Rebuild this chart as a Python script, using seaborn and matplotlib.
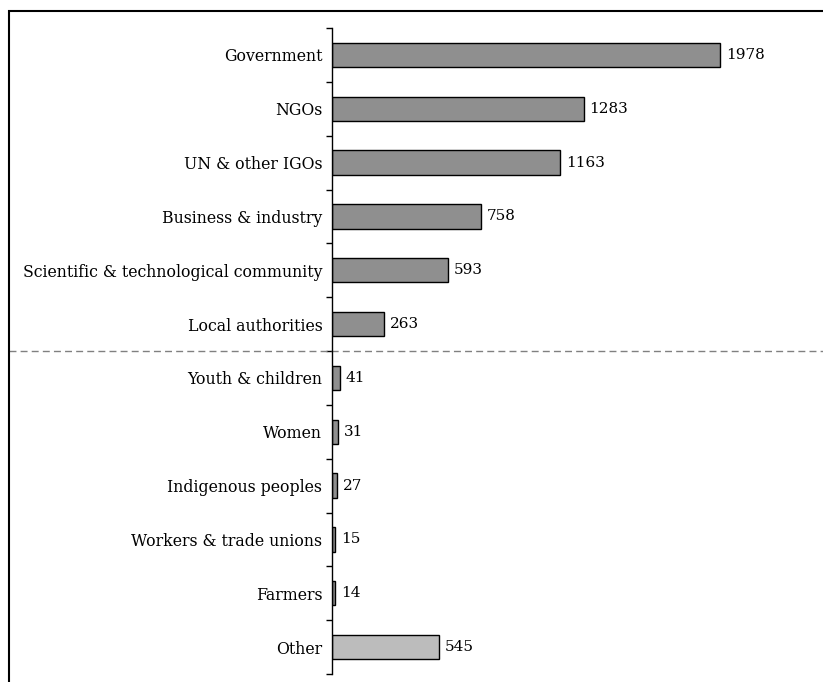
import pandas as pd
import seaborn as sns
import matplotlib.pyplot as plt
from matplotlib.patches import Rectangle

groups = ['Government', 'NGOs', 'UN & other IGOs', 'Business & industry',
          'Scientific & technological community', 'Local authorities',
          'Youth & children', 'Women', 'Indigenous peoples',
          'Workers & trade unions', 'Farmers', 'Other']
counts = [1978, 1283, 1163, 758, 593, 263, 41, 31, 27, 15, 14, 545]
bar_colors = ['#8f8f8f'] * 11 + ['#bcbcbc']

df = pd.DataFrame({'group': groups, 'count': counts})

sns.set_style('white')
plt.rcParams['font.family'] = ['DejaVu Serif']
plt.rcParams['text.color'] = 'black'
plt.rcParams['ytick.color'] = 'black'

fig = plt.figure(figsize=(8.23, 6.82), dpi=100)
ax = fig.add_axes([332 / 823, 8 / 682, 491 / 823, 646 / 682])

sns.barplot(data=df, y='group', x='count', hue='group', palette=bar_colors,
            order=groups, hue_order=groups, orient='h', width=0.45,
            edgecolor='black', linewidth=1, legend=False, ax=ax)

ax.set_xlim(0, 2503)
ax.set_ylim(len(groups) - 0.5, -0.5)
ax.set_xlabel('')
ax.set_ylabel('')
ax.set_xticks([])
for s in ['top', 'right', 'bottom']:
    ax.spines[s].set_visible(False)
ax.spines['left'].set_linewidth(1)
ax.spines['left'].set_color('black')

# labels without tick marks, ticks between categories
ax.tick_params(axis='y', which='major', length=0, pad=7, labelsize=11.3,
               labelcolor='black')
ax.set_yticks([i - 0.5 for i in range(len(groups) + 1)], minor=True)
ax.tick_params(axis='y', which='minor', length=4, width=1, color='black', left=True)

for i, v in enumerate(counts):
    ax.text(v + 30, i, str(v), va='center', ha='left', fontsize=11, color='black')

# separator between main and minor groups
ax.plot([(9 - 332) / 491, 1], [5.5, 5.5], transform=ax.get_yaxis_transform(),
        clip_on=False, ls=(0, (5, 3)), color='#808080', lw=1)

fig.add_artist(Rectangle((9 / 823, -0.1), 1.2, 1 - 11 / 682 + 0.1,
                         transform=fig.transFigure, fill=False, lw=1.5, ec='black'))

fig.savefig('out.png', dpi=100)
